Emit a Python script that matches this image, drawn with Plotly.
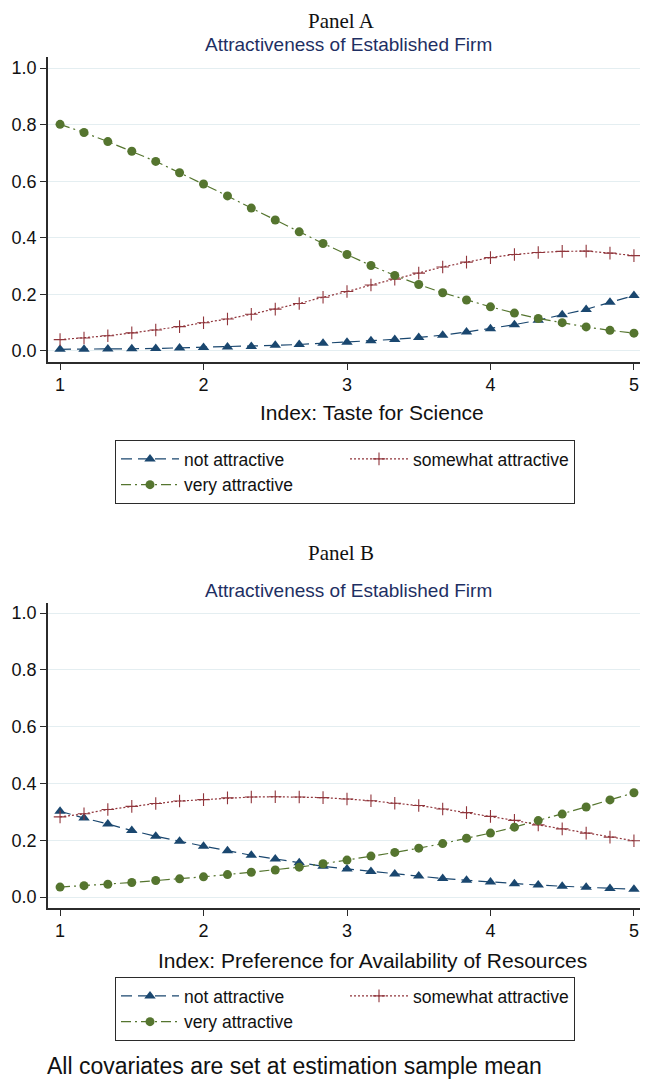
import plotly.graph_objects as go

# ---------------- data ----------------
index_x = [1.000, 1.167, 1.333, 1.500, 1.667, 1.833, 2.000, 2.167, 2.333, 2.500,
           2.667, 2.833, 3.000, 3.167, 3.333, 3.500, 3.667, 3.833, 4.000, 4.167,
           4.333, 4.500, 4.667, 4.833, 5.000]

# Panel A: Index: Taste for Science
a_not = [0.006, 0.006, 0.007, 0.008, 0.009, 0.011, 0.012, 0.014, 0.016, 0.020,
         0.023, 0.027, 0.031, 0.036, 0.041, 0.048, 0.056, 0.067, 0.079, 0.093,
         0.109, 0.128, 0.147, 0.172, 0.196]
a_some = [0.040, 0.046, 0.054, 0.064, 0.074, 0.086, 0.100, 0.113, 0.130, 0.148,
          0.168, 0.190, 0.210, 0.233, 0.254, 0.275, 0.297, 0.314, 0.330, 0.341,
          0.348, 0.352, 0.353, 0.346, 0.337]
a_very = [0.801, 0.772, 0.740, 0.706, 0.670, 0.630, 0.590, 0.548, 0.505, 0.463,
          0.421, 0.380, 0.341, 0.302, 0.267, 0.235, 0.206, 0.180, 0.156, 0.134,
          0.115, 0.100, 0.085, 0.073, 0.063]

# Panel B: Index: Preference for Availability of Resources
b_not = [0.302, 0.278, 0.257, 0.234, 0.214, 0.196, 0.179, 0.163, 0.147, 0.134,
         0.121, 0.108, 0.099, 0.090, 0.081, 0.074, 0.065, 0.059, 0.053, 0.047,
         0.042, 0.038, 0.034, 0.030, 0.027]
b_some = [0.282, 0.293, 0.308, 0.319, 0.329, 0.338, 0.343, 0.349, 0.352, 0.353,
          0.352, 0.350, 0.345, 0.339, 0.330, 0.322, 0.310, 0.297, 0.284, 0.270,
          0.254, 0.240, 0.225, 0.211, 0.198]
b_very = [0.035, 0.040, 0.045, 0.051, 0.058, 0.064, 0.071, 0.079, 0.087, 0.095,
          0.105, 0.117, 0.130, 0.144, 0.157, 0.172, 0.188, 0.207, 0.225, 0.246,
          0.269, 0.292, 0.317, 0.342, 0.367]

series_names = ["not attractive", "somewhat attractive", "very attractive"]
x_ticks = [1, 2, 3, 4, 5]
x_tick_labels = ["1", "2", "3", "4", "5"]
y_ticks = [0.0, 0.2, 0.4, 0.6, 0.8, 1.0]
y_tick_labels = ["0.0", "0.2", "0.4", "0.6", "0.8", "1.0"]

panel_titles = ["Panel A", "Panel B"]
subtitle = "Attractiveness of Established Firm"
x_titles = ["Index: Taste for Science", "Index: Preference for Availability of Resources"]
footnote = "All covariates are set at estimation sample mean"

# ---------------- styling ----------------
OFF = 8                      # page body margin of the HTML page
W, H = 648 - OFF, 1080 - OFF
ML, MR = 30, 0
GW = W - ML - MR
SANS = "Liberation Sans, Arial, sans-serif"
SERIF = "Liberation Serif, Times New Roman, serif"

NAVY = "#1a476f"
MAROON = "#90353b"
GREEN = "#55752f"

styles = [
    dict(color=NAVY, dash="11px,6px", symbol="triangle-up", size=10, lw=0),
    dict(color=MAROON, dash="2px,2px", symbol="cross-thin", size=9, lw=1.1),
    dict(color=GREEN, dash="10px,4px,2px,4px", symbol="circle", size=9, lw=0),
]


def px_x(px):
    """screen pixel -> paper x"""
    return (px - OFF - ML) / GW


def px_y(py):
    """screen pixel -> paper y"""
    return 1 - (py - OFF) / H


fig = go.Figure()

panels = [
    ([a_not, a_some, a_very], "x", "y", "legend"),
    ([b_not, b_some, b_very], "x2", "y2", "legend2"),
]
for series, xa, ya, lg in panels:
    for name, vals, st in zip(series_names, series, styles):
        fig.add_trace(go.Scatter(
            x=index_x, y=vals, name=name, mode="lines+markers",
            xaxis=xa, yaxis=ya, legend=lg,
            line=dict(color=st["color"], width=1.2, dash=st["dash"]),
            marker=dict(symbol=st["symbol"], size=st["size"], color=st["color"],
                        line=dict(color=st["color"], width=st["lw"])),
        ))

axis_common = dict(
    showline=True, linecolor="#2b2b2b", linewidth=1.5,
    ticks="outside", ticklen=6, tickwidth=1.2, tickcolor="#2b2b2b",
    tickfont=dict(family=SANS, size=18, color="#111"),
    zeroline=False, mirror=False,
)

x_range = [0.916, 5.098]
x_dom = [px_x(48), 1.0]

fig.update_layout(
    width=W, height=H,
    margin=dict(l=ML, r=MR, t=0, b=0),
    paper_bgcolor="white", plot_bgcolor="white",
    showlegend=True,
    xaxis=dict(axis_common, domain=x_dom, range=x_range, anchor="y",
               tickvals=x_ticks, ticktext=x_tick_labels, showgrid=False),
    yaxis=dict(axis_common, domain=[px_y(362), px_y(57)], range=[-0.0389, 1.0389],
               anchor="x", tickvals=y_ticks, ticktext=y_tick_labels,
               showgrid=True, gridcolor="#e4eef1", gridwidth=1),
    xaxis2=dict(axis_common, domain=x_dom, range=x_range, anchor="y2",
                tickvals=x_ticks, ticktext=x_tick_labels, showgrid=False),
    yaxis2=dict(axis_common, domain=[px_y(908), px_y(603)], range=[-0.0387, 1.0352],
                anchor="x2", tickvals=y_ticks, ticktext=y_tick_labels,
                showgrid=True, gridcolor="#e4eef1", gridwidth=1),
)

legend_common = dict(
    orientation="h", xanchor="left", yanchor="top",
    bgcolor="white", bordercolor="#2b2b2b", borderwidth=1,
    font=dict(family=SANS, size=17.5, color="#111"),
    itemwidth=58, entrywidthmode="pixels", entrywidth=156,
    traceorder="normal",
)
fig.update_layout(
    legend=dict(legend_common, x=px_x(115), y=px_y(440)),
    legend2=dict(legend_common, x=px_x(115), y=px_y(977)),
)

annotations = []
for i, (ty, sy, xty) in enumerate([(21, 44, 412), (553, 590, 960)]):
    annotations.append(dict(text=panel_titles[i], x=px_x(341), y=px_y(ty),
                            xref="paper", yref="paper", showarrow=False,
                            xanchor="center", yanchor="middle", borderpad=0,
                            font=dict(family=SERIF, size=21, color="#111")))
    annotations.append(dict(text=subtitle, x=px_x(348), y=px_y(sy),
                            xref="paper", yref="paper", showarrow=False,
                            xanchor="center", yanchor="middle",
                            font=dict(family=SANS, size=19, color="#1e2f63")))
    annotations.append(dict(text=x_titles[i], x=px_x(372), y=px_y(xty),
                            xref="paper", yref="paper", showarrow=False,
                            xanchor="center", yanchor="middle",
                            font=dict(family=SANS, size=21, color="#111")))
annotations.append(dict(text=footnote, x=px_x(45), y=px_y(1066),
                        xref="paper", yref="paper", showarrow=False,
                        xanchor="left", yanchor="middle",
                        font=dict(family=SANS, size=23, color="#111")))
fig.update_layout(annotations=annotations)

fig.write_html("out.html")
